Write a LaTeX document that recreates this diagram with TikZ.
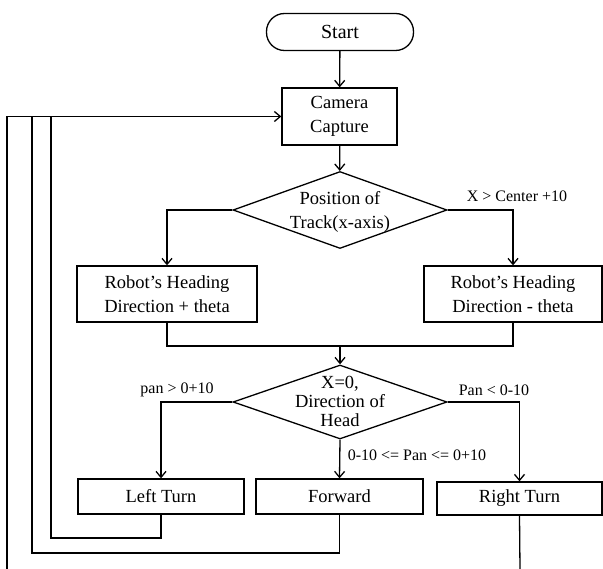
\documentclass[tikz,border=0pt]{standalone}
\usepackage{fontspec}
\setmainfont{Liberation Serif}
\usetikzlibrary{shapes.geometric,arrows.meta}
\begin{document}
\begin{tikzpicture}[x=1pt,y=-1pt,line width=1.3pt,
  >={Straight Barb[length=6pt,width=10pt]},
  font=\fontsize{18.5}{24}\selectfont,
  box/.style={draw,inner sep=0pt,align=center},
  dec/.style={draw,diamond,inner sep=0pt,minimum width=214pt},
  lbl/.style={font=\fontsize{16}{18}\selectfont}]
  \useasboundingbox (0,0) rectangle (603,569);
  \node[box,rounded corners=18pt,minimum width=147pt,minimum height=37pt,font=\fontsize{20}{24}\selectfont] (start) at (340,32) {Start};
  \node[box,minimum width=115pt,minimum height=57pt] (cam) at (339.5,116.5) {Camera\\Capture};
  \node[dec,minimum height=77pt] (d1) at (340,210) {};
  \node[align=center] (t1) at (340,212) {Position of\\Track(x-axis)};
  \node[box,minimum width=180pt,minimum height=56pt] (r1) at (167,294) {Robot’s Heading\\Direction + theta};
  \node[box,minimum width=178pt,minimum height=56pt] (r2) at (513,294) {Robot’s Heading\\Direction - theta};
  \node[dec,minimum height=74pt] (d2) at (340,402) {};
  \node[align=center,font=\fontsize{18.5}{19}\selectfont] (t2) at (340,401) {X=0,\\Direction of\\Head};
  \node[box,minimum width=166pt,minimum height=35pt] (lt) at (161,496.5) {Left Turn};
  \node[box,minimum width=167pt,minimum height=35pt] (fw) at (339.5,496.5) {Forward};
  \node[box,minimum width=165pt,minimum height=33pt] (rt) at (519.5,498.5) {Right Turn};
  \coordinate (m) at (340,346);
  \coordinate (lb) at (51,538);
  \coordinate (fb) at (32,553);
  \coordinate (ob) at (7,569);
  \coordinate (rb) at (520,569);
  \draw[->] (start) -- (cam);
  \draw[->] (cam) -- (d1);
  \draw[->] (d1.west) -| (r1.north);
  \draw[->] (d1.east) -| (r2.north);
  \draw (r1.south) |- (m) -| (r2.south);
  \draw[->] (m) -- (d2.north);
  \draw[->] (d2.west) -| (lt.north);
  \draw[->] (d2.south) -- (fw.north);
  \draw[->] (d2.east) -| (rt.north);
  \draw (lt.south) |- (lb) |- (cam.west);
  \draw (fw.south) |- (fb) |- (cam.west);
  \draw[->] (ob) |- (cam.west);
  \draw (rt.south) -- (rb);
  \node[lbl] (l1) at (517,196) {X > Center +10};
  \node[lbl] (l2) at (177,390) {pan > 0+10};
  \node[lbl] (l3) at (494,390) {Pan < 0-10};
  \node[lbl] (l4) at (417,455) {0-10 <= Pan <= 0+10};
\end{tikzpicture}
\end{document}
